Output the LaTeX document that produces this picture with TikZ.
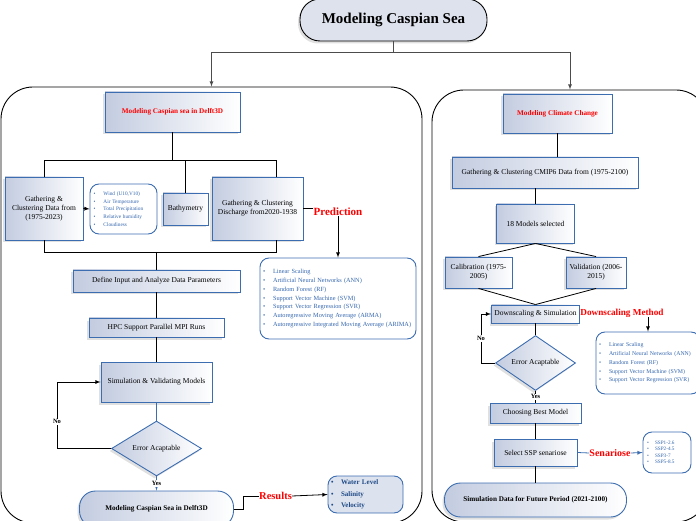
\documentclass[tikz,border=0pt]{standalone}
\usepackage{fontspec}
\setmainfont{Liberation Serif}
\usepackage{tikz}
\usetikzlibrary{shapes.geometric, shadows}

\definecolor{boxblue}{HTML}{3C6DB0}
\definecolor{boxfill}{HTML}{C3CCE0}
\definecolor{listblue}{HTML}{3466AE}
\definecolor{darkblue}{HTML}{1F4A86}
\definecolor{titlefill}{HTML}{DEE2ED}
\definecolor{resfill}{HTML}{DCE2EE}

\newcommand{\bul}{\makebox[10pt][l]{\textbullet}}

\tikzset{
    softshadow/.style={drop shadow={shadow xshift=-2pt, shadow yshift=-2.5pt, fill=gray!40, opacity=0.6}},
    flowbox/.style={draw=boxblue, line width=0.9pt, left color=boxfill, right color=white, align=center,
        inner sep=1pt, font=\fontsize{7.5}{9}\selectfont, softshadow},
    decision/.style={flowbox, shape=diamond, inner sep=0pt},
    pill/.style={flowbox, rounded corners=16pt, font=\fontsize{7.2}{8.5}\selectfont\bfseries},
    titlebox/.style={draw=black, line width=0.9pt, fill=titlefill, rounded corners=20pt,
        font=\fontsize{15}{17}\selectfont\bfseries, softshadow},
    panel/.style={draw=black, line width=0.9pt, rounded corners=32pt},
    listbox/.style={draw=boxblue, line width=0.9pt, fill=white, rounded corners=9pt, align=left,
        text=listblue, inner sep=2pt, font=\fontsize{6.3}{8.7}\selectfont},
    redhead/.style={text=red, font=\fontsize{7.2}{8.5}\selectfont\bfseries},
    redlabel/.style={text=red, inner sep=0pt, font=\fontsize{11}{13}\selectfont\bfseries},
    answer/.style={fill=white, inner sep=1pt, font=\fontsize{6.5}{7.5}\selectfont\bfseries},
    link/.style={draw=black, line width=0.8pt},
    bluelink/.style={draw=boxblue, line width=0.8pt},
    graylink/.style={draw=black!70, line width=0.8pt}
}

\begin{document}
\begin{tikzpicture}[x=1pt, y=-1pt, >=latex]

        \useasboundingbox (0,0) rectangle (696,521);

        % panels and title
        \node[panel, minimum width=421pt, minimum height=436pt] (leftpanel) at (211.5,305) {};
        \node[panel, minimum width=276pt, minimum height=432pt] (rightpanel) at (570,306) {};
        \node[titlebox, minimum width=187pt, minimum height=42pt] (title) at (393.5,20) {Modeling Caspian Sea};

        \coordinate (split) at (393.5,52);
        \draw[graylink] (title.south) -- (split);
        \draw[graylink, ->] (split) -| (leftpanel.north);
        \draw[graylink, ->] (split) -| (rightpanel.north);

        % Delft3D side
        \node[flowbox, redhead, minimum width=135pt, minimum height=40pt] (delft) at (172.5,112) {Modeling Caspian sea in Delft3D};
        \node[flowbox, minimum width=78pt, minimum height=63pt] (gathL) at (44,208.5) {Gathering \&\\ Clustering Data from\\ (1975-2023)};
        \node[listbox, font=\fontsize{5.3}{7.8}\selectfont, text width=60pt, minimum width=67pt, minimum height=50pt] (windlist) at (123.5,209)
            {\bul Wind (U10,V10)\\ \bul Air Temperature\\ \bul Total Precipitation\\ \bul Relative humidity\\ \bul Cloudiness};
        \node[flowbox, minimum width=45pt, minimum height=32pt] (bathy) at (185.5,209) {Bathymetry};
        \node[flowbox, minimum width=91pt, minimum height=63pt] (gathR) at (257.5,208.5) {Gathering \& Clustering\\ Discharge from2020-1938};

        \coordinate (busT) at (172.5,160);
        \coordinate (busTR) at (276,160);
        \coordinate (busB) at (156.5,252);
        \coordinate (busBR) at (276,252);
        \draw[link] (delft.south) -- (busT);
        \draw[link] (gathL.north) |- (busTR) -- (busTR |- gathR.north);
        \draw[link] (bathy.north) -- (bathy.north |- busT);
        \draw[link] (gathL.south) |- (busBR) -- (busBR |- gathR.south);
        \draw[link, ->] (gathL.east) -- (windlist.west);

        \node[redlabel] (predlab) at (338,212) {Prediction};
        \node[listbox, text width=150pt, minimum width=156pt, minimum height=81pt] (predlist) at (338,298.5)
            {\bul Linear Scaling\\ \bul Artificial Neural Networks (ANN)\\ \bul Random Forest (RF)\\ \bul Support Vector Machine (SVM)\\
             \bul Support Vector Regression (SVR)\\ \bul Autoregressive Moving Average (ARMA)\\ \bul Autoregressive Integrated Moving Average (ARIMA)};
        \draw[link] (gathR.east) -- (gathR.east -| predlab.west);
        \draw[link, ->] (predlab.south) -- (predlist.north);

        \node[flowbox, minimum width=167pt, minimum height=22pt] (define) at (156.5,281) {Define Input and Analyze Data Parameters};
        \node[flowbox, minimum width=135pt, minimum height=19pt] (hpc) at (156.5,327.5) {HPC Support Parallel MPI Runs};
        \node[flowbox, minimum width=111pt, minimum height=40pt] (sim) at (156.5,382) {Simulation \& Validating Models};
        \node[decision, minimum width=90pt, minimum height=39pt] (errL) at (156.5,448.5) {Error Acaptable};
        \node[pill, minimum width=154pt, minimum height=36pt] (pillL) at (156.5,509) {Modeling Caspian Sea in Delft3D};

        \draw[link] (busB) -- (define.north);
        \draw[link] (define) -- (hpc);
        \draw[link] (hpc) -- (sim);
        \draw[bluelink] (sim) -- (errL);
        \coordinate (noL) at (57,448.5);
        \draw[link, ->] (errL.west) -- (noL) |- (sim.west) node[pos=0.2, answer] {No};
        \draw[bluelink, ->] (errL.south) -- (pillL.north) node[midway, answer, text=black] {Yes};

        \node[redlabel, font=\fontsize{10.5}{12}\selectfont\bfseries] (reslab) at (275.5,496) {Results};
        \node[listbox, fill=resfill, text=darkblue, font=\fontsize{7}{11.3}\selectfont\bfseries, text width=69pt, minimum width=75pt, minimum height=37pt] (reslist) at (365.5,494.5)
            {\bul Water Level\\ \bul Salinity\\ \bul Velocity};
        \draw[link] (pillL.east) -- ++(9,0) |- (reslab.west);
        \draw[link, ->] (reslab.east) -- (reslist.west);

        % climate side
        \node[flowbox, redhead, minimum width=109pt, minimum height=39pt] (climate) at (557.5,113.5) {Modeling Climate Change};
        \node[flowbox, minimum width=186pt, minimum height=31pt] (cmip) at (545,172.5) {Gathering \& Clustering CMIP6 Data from (1975-2100)};
        \node[flowbox, minimum width=78pt, minimum height=39pt] (models) at (535.5,223.5) {18 Models selected};
        \node[flowbox, minimum width=67pt, minimum height=31pt] (calib) at (478.5,272.5) {Calibration (1975-\\ 2005)};
        \node[flowbox, minimum width=60pt, minimum height=31pt] (valid) at (596,272.5) {Validation (2006-\\ 2015)};
        \node[flowbox, minimum width=88pt, minimum height=18pt] (down) at (535.5,314) {Downscaling \& Simulation};
        \node[decision, minimum width=80pt, minimum height=40pt] (errR) at (535.5,363) {Error Acaptable};
        \node[flowbox, minimum width=91pt, minimum height=20pt] (choose) at (535.5,413) {Choosing Best Model};
        \node[flowbox, minimum width=83pt, minimum height=27pt] (select) at (535.5,452.5) {Select SSP senariose};
        \node[pill, minimum width=182pt, minimum height=34pt] (future) at (535.5,500) {Simulation Data for Future Period (2021-2100)};

        \draw[link] (climate.south) -- (climate.south |- cmip.north);
        \draw[link] (models.north |- cmip.south) -- (models.north);
        \draw[link] (models.south) -- (calib.north);
        \draw[link] (models.south) -- (valid.north);
        \draw[link] (calib.south) -- (down.north);
        \draw[link] (valid.south) -- (down.north);
        \draw[link] (down) -- (errR);
        \coordinate (noR) at (481,363);
        \draw[link, ->] (errR.west) -- (noR) |- (down.west) node[pos=0.25, answer] {No};
        \draw[link] (errR.south) -- (choose.north) node[midway, answer] {Yes};
        \draw[link] (choose) -- (select);
        \draw[link] (select) -- (future);

        \node[redlabel, font=\fontsize{9.2}{11}\selectfont\bfseries] (dmlab) at (622,313) {Downscaling Method};
        \node[listbox, font=\fontsize{5.8}{8.7}\selectfont, text width=98pt, minimum width=104pt, minimum height=62pt] (dmlist) at (648,363)
            {\bul Linear Scaling\\ \mbox{\bul Artificial Neural Networks (ANN)}\\ \bul Random Forest (RF)\\ \mbox{\bul Support Vector Machine (SVM)}\\ \mbox{\bul Support Vector Regression (SVR)}};
        \draw[link, ->] (dmlab.south -| dmlist.north) -- (dmlist.north);

        \node[redlabel, font=\fontsize{10}{12}\selectfont\bfseries] (senlab) at (610,453) {Senariose};
        \node[listbox, font=\fontsize{5.2}{6.5}\selectfont, text width=40pt, minimum width=48pt, minimum height=41pt] (ssplist) at (667,452.5)
            {\makebox[8pt][l]{\textbullet}SSP1-2.6\\ \makebox[8pt][l]{\textbullet}SSP2-4.5\\ \makebox[8pt][l]{\textbullet}SSP3-7\\ \makebox[8pt][l]{\textbullet}SSP5-8.5};
        \draw[bluelink] (select.east) -- (senlab.west);
        \draw[bluelink, ->] (senlab.east) -- (ssplist.west);

\end{tikzpicture}
\end{document}
